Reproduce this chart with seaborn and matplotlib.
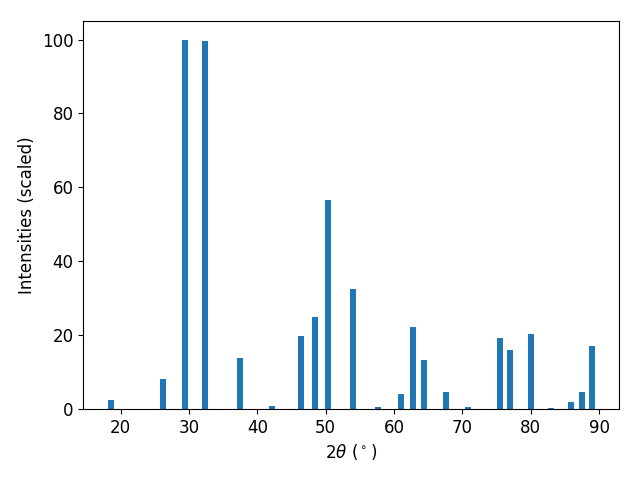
import numpy as np
import matplotlib
matplotlib.use("Agg")
import matplotlib.pyplot as plt
import seaborn as sns

# peak positions (2theta, degrees) and scaled intensities
two_theta = [18.54, 26.28, 29.45, 32.32, 37.54, 42.10, 46.38, 48.42, 50.35,
             54.05, 57.63, 61.06, 62.74, 64.43, 67.64, 70.78, 75.46, 76.99,
             79.99, 82.98, 85.91, 87.44, 88.90]
intensity = [2.4, 8.1, 100.0, 99.5, 13.9, 0.8, 19.8, 25.0, 56.6,
             32.6, 0.5, 4.1, 22.3, 13.3, 4.6, 0.5, 19.3, 16.0,
             20.4, 0.3, 1.9, 4.6, 17.1]

plt.rcParams['font.size'] = 12

fig, ax = plt.subplots(figsize=(6.4, 4.8), dpi=100)

# seaborn scales native-width bars by the smallest spacing between positions
min_gap = np.diff(np.sort(two_theta)).min()
sns.barplot(x=two_theta, y=intensity, native_scale=True, width=0.88 / min_gap,
            color='#1f77b4', saturation=1, ax=ax)

ax.set_xlabel(r'$2\theta$ ($^\circ$)')
ax.set_ylabel('Intensities (scaled)')

fig.subplots_adjust(left=0.13, right=0.967, top=0.956, bottom=0.148)
plt.savefig('out.png', dpi=100)
